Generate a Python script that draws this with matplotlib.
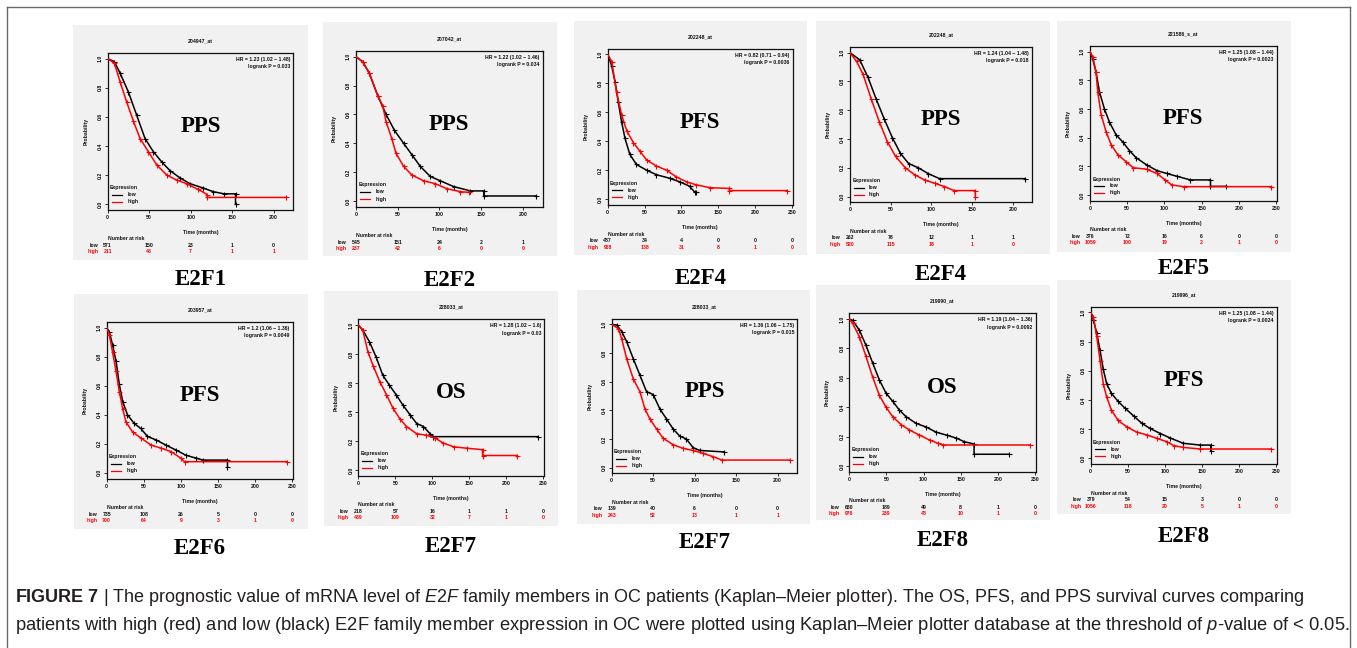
import matplotlib
matplotlib.use("Agg")
import matplotlib.pyplot as plt
from matplotlib.patches import Rectangle
from matplotlib.lines import Line2D
from matplotlib.transforms import ScaledTranslation, blended_transform_factory

plt.rcParams['font.family'] = ['Liberation Sans', 'DejaVu Sans']
plt.rcParams['mathtext.fontset'] = 'custom'
plt.rcParams['mathtext.rm'] = 'Liberation Sans'
plt.rcParams['mathtext.it'] = 'Liberation Sans:italic'
plt.rcParams['mathtext.bf'] = 'Liberation Sans:bold'

W, H, DPI = 1357, 648, 100

# ---------------- data ----------------
probe_ids = ["204947_at", "207042_at", "202248_at", "202248_at", "221586_s_at",
             "203957_at", "228033_at", "228033_at", "219990_at", "219996_at"]
survival_types = ["PPS", "PPS", "PFS", "PPS", "PFS", "PFS", "OS", "PPS", "OS", "PFS"]
genes = ["E2F1", "E2F2", "E2F4", "E2F4", "E2F5", "E2F6", "E2F7", "E2F7", "E2F8", "E2F8"]
hr_texts = ["HR = 1.23 (1.02 \u2212 1.48)", "HR = 1.22 (1.02 \u2212 1.46)", "HR = 0.82 (0.71 \u2212 0.94)",
            "HR = 1.24 (1.04 \u2212 1.48)", "HR = 1.25 (1.08 \u2212 1.44)", "HR = 1.2 (1.06 \u2212 1.36)",
            "HR = 1.28 (1.02 \u2212 1.6)", "HR = 1.36 (1.06 \u2212 1.75)", "HR = 1.19 (1.04 \u2212 1.36)",
            "HR = 1.25 (1.08 \u2212 1.44)"]
p_texts = ["logrank P = 0.033", "logrank P = 0.034", "logrank P = 0.0036", "logrank P = 0.018",
           "logrank P = 0.0023", "logrank P = 0.0049", "logrank P = 0.03", "logrank P = 0.015",
           "logrank P = 0.0092", "logrank P = 0.0024"]

ticks_200 = [0, 50, 100, 150, 200]
ticks_250 = [0, 50, 100, 150, 200, 250]
x_ticks = [ticks_200, ticks_200, ticks_250, ticks_200, ticks_250,
           ticks_250, ticks_250, ticks_200, ticks_250, ticks_250]

risk_low = [[571, 150, 23, 1, 0], [545, 151, 24, 2, 1], [487, 34, 4, 0, 0, 0],
            [262, 78, 12, 1, 1], [376, 72, 16, 6, 0, 0], [735, 108, 26, 5, 0, 0],
            [218, 57, 16, 1, 1, 0], [139, 40, 6, 0, 0], [680, 189, 49, 8, 1, 0],
            [379, 54, 15, 3, 0, 0]]
risk_high = [[211, 43, 7, 1, 1], [237, 42, 6, 0, 0], [968, 138, 31, 8, 1, 0],
             [520, 115, 18, 1, 0], [1059, 100, 19, 2, 1, 0], [700, 64, 9, 3, 1, 0],
             [439, 109, 32, 7, 1, 0], [243, 52, 13, 1, 1], [976, 239, 48, 10, 1, 0],
             [1056, 118, 20, 5, 1, 0]]

# survival curves (time in months, probability)
p1_low_t = [0, 8, 15, 25, 35, 45, 55, 65, 75, 87, 99, 115, 127, 140, 154, 154]
p1_low_s = [1.0, 0.98, 0.90, 0.77, 0.61, 0.45, 0.36, 0.29, 0.23, 0.18, 0.14, 0.11, 0.085, 0.07, 0.07, 0.0]
p1_high_t = [0, 8, 15, 23, 31, 39, 49, 59, 71, 83, 95, 109, 120, 120, 215]
p1_high_s = [1.0, 0.97, 0.84, 0.70, 0.57, 0.45, 0.36, 0.27, 0.20, 0.165, 0.14, 0.10, 0.065, 0.045, 0.045]

p2_low_t = [0, 8, 16, 26, 36, 46, 57, 67, 77, 89, 101, 117, 137, 153, 153, 215]
p2_low_s = [1.0, 0.965, 0.885, 0.73, 0.60, 0.49, 0.40, 0.32, 0.24, 0.17, 0.14, 0.10, 0.07, 0.07, 0.035, 0.035]
p2_high_t = [0, 8, 16, 26, 32, 36, 43, 48, 57, 67, 81, 95, 109, 125, 135]
p2_high_s = [1.0, 0.965, 0.885, 0.73, 0.66, 0.55, 0.43, 0.33, 0.24, 0.18, 0.14, 0.12, 0.085, 0.065, 0.06]

p3_low_t = [0, 5.4, 10, 14.4, 19, 23.5, 30, 39, 53, 66, 84, 98, 111, 118, 120]
p3_low_s = [1.0, 0.92, 0.81, 0.67, 0.53, 0.42, 0.31, 0.24, 0.20, 0.17, 0.145, 0.12, 0.09, 0.05, 0.05]
p3_high_t = [0, 5.4, 12, 19, 26, 35, 44, 53, 66, 80, 93, 107, 120, 139, 165, 165, 243]
p3_high_s = [1.0, 0.95, 0.74, 0.58, 0.47, 0.39, 0.33, 0.27, 0.23, 0.20, 0.155, 0.12, 0.10, 0.08, 0.075, 0.06, 0.06]

p4_low_t = [0, 12, 22, 32, 42, 52, 62, 72, 84, 96, 110, 215]
p4_low_s = [1.0, 0.95, 0.83, 0.68, 0.54, 0.41, 0.30, 0.23, 0.20, 0.16, 0.125, 0.125]
p4_high_t = [0, 8, 16, 26, 36, 46, 56, 68, 80, 92, 104, 116, 128, 154, 154]
p4_high_s = [1.0, 0.94, 0.85, 0.68, 0.52, 0.38, 0.28, 0.20, 0.15, 0.115, 0.093, 0.07, 0.042, 0.042, 0.0]

p5_low_t = [0, 3.6, 8, 12.7, 19.4, 26, 35, 44, 53, 62, 76, 90, 103, 117, 135, 162, 162, 183]
p5_low_s = [1.0, 0.95, 0.86, 0.72, 0.60, 0.51, 0.42, 0.37, 0.31, 0.26, 0.21, 0.17, 0.15, 0.13, 0.105, 0.105, 0.06, 0.06]
p5_high_t = [0, 3.6, 8, 10.4, 15, 21.7, 28.5, 37.5, 49, 58, 76, 90, 101, 110, 126, 243]
p5_high_s = [1.0, 0.965, 0.86, 0.72, 0.56, 0.44, 0.35, 0.28, 0.23, 0.19, 0.18, 0.15, 0.105, 0.07, 0.058, 0.058]

p6_low_t = [0, 3.6, 8, 12.6, 17, 21.6, 28, 37, 46, 55, 67, 80, 94, 107, 121, 130, 163, 163]
p6_low_s = [1.0, 0.97, 0.88, 0.77, 0.61, 0.49, 0.40, 0.34, 0.305, 0.25, 0.225, 0.19, 0.155, 0.12, 0.10, 0.087, 0.087, 0.04]
p6_high_t = [0, 3.6, 8, 12.6, 17, 21.6, 26, 35, 46, 60, 73, 87, 100, 105, 243]
p6_high_s = [1.0, 0.95, 0.83, 0.70, 0.56, 0.44, 0.35, 0.28, 0.24, 0.19, 0.17, 0.145, 0.10, 0.076, 0.076]

p7_low_t = [0, 6, 15, 24, 33, 42, 51, 60, 70, 79, 88, 97, 101, 243]
p7_low_s = [1.0, 0.965, 0.885, 0.78, 0.655, 0.585, 0.52, 0.45, 0.38, 0.32, 0.30, 0.25, 0.23, 0.23]
p7_high_t = [0, 6, 13, 20, 29, 38, 47, 56, 65, 79, 92, 104, 115, 129, 147, 168, 168, 215]
p7_high_s = [1.0, 0.965, 0.815, 0.72, 0.61, 0.52, 0.425, 0.355, 0.30, 0.25, 0.24, 0.22, 0.185, 0.16, 0.15, 0.14, 0.10, 0.10]

p8_low_t = [0, 6, 12, 18, 26, 34, 42, 50, 58, 66, 74, 82, 90, 98, 106, 135]
p8_low_s = [1.0, 0.995, 0.95, 0.88, 0.76, 0.645, 0.53, 0.51, 0.41, 0.34, 0.27, 0.22, 0.20, 0.14, 0.12, 0.11]
p8_high_t = [0, 8, 12, 18, 26, 34, 40, 46, 54, 62, 74, 86, 98, 110, 122, 133, 215]
p8_high_s = [1.0, 0.97, 0.90, 0.76, 0.62, 0.53, 0.41, 0.34, 0.27, 0.205, 0.16, 0.135, 0.12, 0.10, 0.077, 0.053, 0.053]

p9_low_t = [0, 4.5, 13.5, 22.5, 31.5, 40.5, 49.5, 58.5, 67.5, 76.5, 90, 103.5, 117, 131, 144, 155, 168, 168, 215]
p9_low_s = [1.0, 0.99, 0.925, 0.82, 0.70, 0.585, 0.495, 0.44, 0.38, 0.335, 0.29, 0.265, 0.23, 0.21, 0.19, 0.165, 0.15, 0.08, 0.08]
p9_high_t = [0, 4.5, 13.5, 22.5, 31.5, 40.5, 49.5, 58.5, 70, 81, 94.5, 108, 119, 126, 243]
p9_high_s = [1.0, 0.97, 0.88, 0.745, 0.605, 0.48, 0.40, 0.335, 0.28, 0.245, 0.21, 0.177, 0.155, 0.143, 0.143]

p10_low_t = [0, 3.6, 8, 12.6, 17, 21.6, 28, 37, 46, 58, 69, 80, 94, 107, 125, 148, 162, 162]
p10_low_s = [1.0, 0.95, 0.86, 0.74, 0.61, 0.51, 0.445, 0.39, 0.345, 0.29, 0.24, 0.205, 0.17, 0.14, 0.103, 0.091, 0.091, 0.05]
p10_high_t = [0, 3.6, 8, 12.6, 17, 21.6, 28, 37, 49, 62, 76, 89, 103, 112, 125, 148, 243]
p10_high_s = [1.0, 0.97, 0.84, 0.67, 0.51, 0.42, 0.33, 0.26, 0.215, 0.18, 0.16, 0.137, 0.114, 0.087, 0.075, 0.064, 0.064]

low_curves = [(p1_low_t, p1_low_s), (p2_low_t, p2_low_s), (p3_low_t, p3_low_s), (p4_low_t, p4_low_s),
              (p5_low_t, p5_low_s), (p6_low_t, p6_low_s), (p7_low_t, p7_low_s), (p8_low_t, p8_low_s),
              (p9_low_t, p9_low_s), (p10_low_t, p10_low_s)]
high_curves = [(p1_high_t, p1_high_s), (p2_high_t, p2_high_s), (p3_high_t, p3_high_s), (p4_high_t, p4_high_s),
               (p5_high_t, p5_high_s), (p6_high_t, p6_high_s), (p7_high_t, p7_high_s), (p8_high_t, p8_high_s),
               (p9_high_t, p9_high_s), (p10_high_t, p10_high_s)]

caption1 = (r"$\mathbf{FIGURE\ 7}$ | The prognostic value of mRNA level of $\mathit{E2F}$ family members in OC "
            r"patients (Kaplan–Meier plotter). The OS, PFS, and PPS survival curves comparing")
caption2 = (r"patients with high (red) and low (black) E2F family member expression in OC were plotted using "
            r"Kaplan–Meier plotter database at the threshold of $\mathit{p}$-value of < 0.05.")

# ---------------- layout (pixels: left, top, right, bottom) ----------------
bg_rects = [(73, 25, 308, 260), (323, 22, 557, 256), (574, 21, 807, 255), (816, 21, 1050, 254),
            (1057, 21, 1291, 252), (74, 294, 308, 529), (324, 291, 558, 526), (577, 290, 810, 524),
            (816, 285, 1050, 520), (1057, 280, 1291, 514)]
axes_rects = [(107.7, 52.9, 293.3, 209.8), (356, 50.9, 542.7, 206.8), (607.7, 48.5, 792.7, 205.1),
              (850, 46.9, 1032, 202.4), (1090, 45.9, 1276.7, 200.7), (106.7, 321.9, 292.7, 478.5),
              (358.3, 319.2, 544, 475.8), (611.7, 318.6, 797.3, 473.4), (849.3, 313.1, 1035.7, 471.9),
              (1090.7, 306.5, 1276.7, 464.2)]
gene_label_y = [280, 281, 278, 275, 269, 549, 547, 543, 540, 537]

BG = '#f1f1f1'
RED = '#ff0000'
INK = '#111111'
FS = 3.7

fig = plt.figure(figsize=(W / DPI, H / DPI), dpi=DPI)
fig.patch.set_facecolor('white')


def off(ax, dx, dy):
    """axes-fraction transform shifted by dx px right, dy px down"""
    return ax.transAxes + ScaledTranslation(dx / DPI, -dy / DPI, fig.dpi_scale_trans)


def off_data(ax, dx, dy):
    return blended_transform_factory(ax.transData, ax.transAxes) + \
        ScaledTranslation(dx / DPI, -dy / DPI, fig.dpi_scale_trans)


for i in range(10):
    l, t, r, b = bg_rects[i]
    fig.patches.append(Rectangle((l / W, 1 - b / H), (r - l) / W, (b - t) / H,
                                 transform=fig.transFigure, facecolor=BG,
                                 edgecolor='none', zorder=-5))
    l, t, r, b = axes_rects[i]
    ax = fig.add_axes([l / W, 1 - b / H, (r - l) / W, (b - t) / H])
    ax.set_facecolor(BG)
    ticks = x_ticks[i]
    xmax = 223.6 if ticks[-1] == 200 else 251
    ax.set_xlim(0, xmax)
    ax.set_ylim(-0.04, 1.04)
    ax.set_xticks(ticks)
    ax.set_xticklabels([str(v) for v in ticks], fontsize=FS, fontweight='bold', color=INK)
    yt = [0.0, 0.2, 0.4, 0.6, 0.8, 1.0]
    ax.set_yticks(yt)
    ax.set_yticklabels([f"{v:.1f}" for v in yt], fontsize=FS, fontweight='bold',
                       rotation=90, va='center', color=INK)
    ax.tick_params(direction='out', length=2.3, width=0.6, pad=1.3, colors=INK)
    for sp in ax.spines.values():
        sp.set_linewidth(0.9)
        sp.set_color(INK)

    lt, ls = low_curves[i]
    ht, hs = high_curves[i]
    ax.plot(lt, ls, color='black', lw=1.1, zorder=3)
    ax.plot(lt[1:], ls[1:], ls='none', marker='+', ms=3.6, mew=0.8, color='black', zorder=3)
    ax.plot(ht, hs, color=RED, lw=1.1, zorder=4)
    ax.plot(ht[1:], hs[1:], ls='none', marker='+', ms=3.6, mew=0.8, color=RED, zorder=4)

    # title, HR
    ax.text(0.5, 1, probe_ids[i], transform=off(ax, 0, -12), ha='center', va='center',
            fontsize=FS, fontweight='bold', color=INK)
    ax.text(1, 1, hr_texts[i], transform=off(ax, -3, 6.5), ha='right', va='center',
            fontsize=FS, fontweight='bold', color=INK)
    ax.text(1, 1, p_texts[i], transform=off(ax, -3, 14), ha='right', va='center',
            fontsize=FS, fontweight='bold', color=INK)
    # big survival label
    ax.text(0.5, 0.53, survival_types[i], transform=ax.transAxes, ha='center', va='center',
            fontsize=16.5, fontweight='bold', family='Liberation Serif', color='black')
    # y label
    ax.text(0, 0.5, 'Probability', transform=off(ax, -22, 0), rotation=90, ha='center',
            va='center', fontsize=FS, fontweight='bold', color=INK)
    # legend
    ax.text(0.012, 0.14, 'Expression', transform=ax.transAxes, ha='left', va='center',
            fontsize=FS, fontweight='bold', color=INK)
    ax.add_line(Line2D([0.022, 0.075], [0.095, 0.095], transform=ax.transAxes, color='black', lw=0.9))
    ax.add_line(Line2D([0.022, 0.075], [0.05, 0.05], transform=ax.transAxes, color=RED, lw=0.9))
    ax.text(0.105, 0.095, 'low', transform=ax.transAxes, ha='left', va='center',
            fontsize=FS, fontweight='bold', color=INK)
    ax.text(0.105, 0.05, 'high', transform=ax.transAxes, ha='left', va='center',
            fontsize=FS, fontweight='bold', color=INK)
    # x label and risk table
    ax.text(0.5, 0, 'Time (months)', transform=off(ax, 0, 22.5), ha='center', va='center',
            fontsize=FS, fontweight='bold', color=INK)
    ax.text(0, 0, 'Number at risk', transform=off(ax, 0, 29), ha='left', va='center',
            fontsize=FS, fontweight='bold', color=INK)
    ax.text(0, 0, 'low', transform=off(ax, -9.5, 35.5), ha='right', va='center',
            fontsize=FS, fontweight='bold', color=INK)
    ax.text(0, 0, 'high', transform=off(ax, -9.5, 42), ha='right', va='center',
            fontsize=FS, fontweight='bold', color=RED)
    for tk, v in zip(ticks, risk_low[i]):
        ax.text(tk, 0, str(v), transform=off_data(ax, 0, 35.5), ha='center', va='center',
                fontsize=FS, fontweight='bold', color=INK, clip_on=False)
    for tk, v in zip(ticks, risk_high[i]):
        ax.text(tk, 0, str(v), transform=off_data(ax, 0, 42), ha='center', va='center',
                fontsize=FS, fontweight='bold', color=RED, clip_on=False)

    # gene label
    cx = (l + r) / 2
    fig.text(cx / W, 1 - gene_label_y[i] / H, genes[i], ha='center', va='center',
             fontsize=16.5, fontweight='bold', family='Liberation Serif', color='black')

# outer frame
for xs, ys in [([7, 7], [7, 648]), ([7, 1350], [7, 7]), ([1350, 1350], [7, 648])]:
    fig.add_artist(Line2D([x / W for x in xs], [1 - y / H for y in ys],
                          transform=fig.transFigure, color='#6a6a6a', lw=1.0))

# caption
cap1 = fig.text(15 / W, 1 - 602 / H, caption1, fontsize=11, color='#231f20', va='baseline', ha='left')
cap2 = fig.text(15 / W, 1 - 630 / H, caption2, fontsize=11, color='#231f20', va='baseline', ha='left')
fig.canvas.draw()
rend = fig.canvas.get_renderer()
w1 = cap1.get_window_extent(rend).width
w2 = cap2.get_window_extent(rend).width
fs2 = 11 * 1330 / w2
fs1 = min(fs2, 11 * 1287 / w1)
cap1.set_fontsize(fs1)
cap2.set_fontsize(fs2)

fig.savefig('out.png', dpi=DPI, facecolor='white')
